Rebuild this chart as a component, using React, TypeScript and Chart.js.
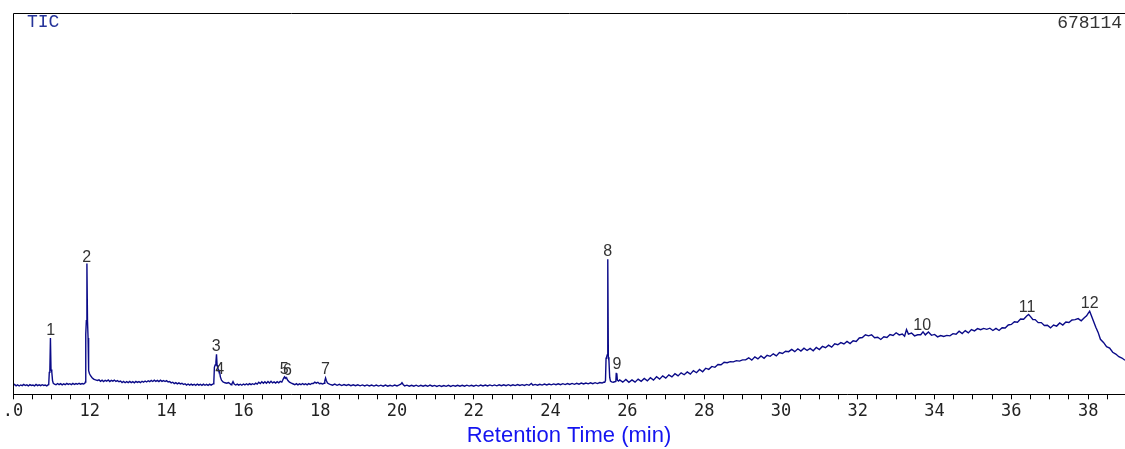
import React, { useEffect, useRef } from "react";
import { Chart, registerables } from "chart.js";

Chart.register(...registerables);

const TRACE_NAME = "TIC";
const FULL_SCALE = 678114;
const FULL_SCALE_LABEL = "678114";
const X_MIN = 10;
const X_MAX = 38.96;
const X_TITLE = "Retention Time (min)";

// [retention time (min), abundance (counts)]
const segmentStart: [number, number][] = [
  [10.0, 16000], [10.04, 17800], [10.08, 15200], [10.12, 16900], [10.16, 14800], [10.2, 16600],
  [10.24, 15400], [10.28, 17500], [10.32, 15600], [10.36, 16800], [10.4, 14900], [10.44, 17200],
  [10.48, 15800], [10.52, 16400], [10.56, 15000], [10.6, 17600], [10.64, 15500], [10.68, 16900],
  [10.72, 15300], [10.76, 17100], [10.8, 15700], [10.84, 16500], [10.88, 15100], [10.91, 16800],
];
const peak1: [number, number][] = [
  [10.93, 17000], [10.945, 39000], [10.96, 43000], [10.975, 100200], [10.99, 44000], [11.01, 40000],
  [11.03, 24000], [11.05, 19500], [11.08, 18200],
];
const segmentB: [number, number][] = [
  [11.12, 17000], [11.16, 19200], [11.2, 17300], [11.24, 18900], [11.28, 16800], [11.32, 18500],
  [11.36, 17100], [11.4, 19400], [11.44, 17600], [11.48, 18800], [11.52, 17200], [11.56, 19300],
  [11.6, 17500], [11.64, 19000], [11.68, 17900], [11.72, 19600], [11.76, 18000], [11.8, 19100],
  [11.84, 18300], [11.87, 19500],
];
const peak2: [number, number][] = [
  [11.885, 22000], [11.895, 107000], [11.91, 131000], [11.925, 232600], [11.94, 131000],
  [11.955, 100000], [11.97, 42000], [11.99, 37000], [12.02, 33000], [12.06, 29500], [12.1, 27000],
  [12.15, 25500], [12.2, 24500],
];
const segmentC: [number, number][] = [
  [12.24, 25600], [12.28, 23100], [12.32, 25200], [12.36, 22800], [12.4, 24900], [12.44, 23300],
  [12.48, 25400], [12.52, 22700], [12.56, 24800], [12.6, 23500], [12.64, 25300], [12.68, 22900],
  [12.72, 24300], [12.76, 22400], [12.8, 23500], [12.84, 21000], [12.88, 22800], [12.92, 20600],
  [12.96, 22500], [13.0, 20900], [13.04, 23000], [13.08, 20800], [13.12, 22400], [13.16, 20500],
  [13.2, 22900], [13.24, 21100], [13.28, 22600], [13.32, 20700], [13.36, 23200], [13.4, 21500],
  [13.44, 23600], [13.48, 21900], [13.52, 24100], [13.56, 22400], [13.6, 24600], [13.64, 22800],
  [13.68, 25000], [13.72, 23100], [13.76, 24700], [13.8, 22600], [13.84, 25100], [13.88, 23000],
  [13.92, 24500], [13.96, 22700], [14.0, 24200], [14.04, 21900], [14.08, 22800], [14.12, 20300],
  [14.16, 21500], [14.2, 19100], [14.24, 20800], [14.28, 18700], [14.32, 20400], [14.36, 18500],
  [14.4, 19600], [14.44, 17400], [14.48, 18800], [14.52, 16500], [14.56, 18300], [14.6, 16400],
  [14.64, 18100], [14.68, 16200], [14.72, 17900], [14.76, 16000], [14.8, 18200], [14.84, 16300],
  [14.88, 17800], [14.92, 15900], [14.96, 18000], [15.0, 16100], [15.04, 17700], [15.08, 15800],
  [15.12, 18100], [15.16, 16400], [15.19, 17500],
];
const peak3and4: [number, number][] = [
  [15.21, 18500], [15.23, 21500], [15.245, 48000], [15.265, 52000], [15.285, 58000], [15.3, 71200],
  [15.315, 52000], [15.335, 46000], [15.36, 43000], [15.38, 40000], [15.4, 31000], [15.43, 25000],
  [15.47, 22000], [15.52, 20500], [15.57, 19800], [15.61, 20800], [15.64, 19500],
];
const segmentD: [number, number][] = [
  [15.68, 17000], [15.7, 18600], [15.73, 22500], [15.76, 18400], [15.8, 16500], [15.84, 18200],
  [15.88, 16300], [15.92, 17900], [15.96, 16100], [16.0, 18300], [16.04, 16600], [16.08, 18700],
  [16.12, 16900], [16.16, 19000], [16.2, 17200], [16.24, 18800], [16.28, 17400], [16.32, 19700],
  [16.36, 18100], [16.4, 21300], [16.44, 19000], [16.48, 22200], [16.52, 19600], [16.56, 22500],
  [16.6, 19800], [16.64, 22800], [16.68, 20100], [16.72, 23000], [16.76, 20300], [16.8, 22100],
  [16.84, 19900], [16.88, 22400], [16.92, 20500], [16.96, 22900], [17.0, 21800], [17.02, 24500],
];
const peak5and6: [number, number][] = [
  [17.05, 29000], [17.07, 31000], [17.09, 28500], [17.11, 30000], [17.13, 28000], [17.16, 24500],
  [17.2, 21500], [17.25, 19800], [17.3, 18300],
];
const segmentE: [number, number][] = [
  [17.34, 17000], [17.38, 18900], [17.42, 16800], [17.46, 18600], [17.5, 17100], [17.54, 19200],
  [17.58, 17300], [17.62, 18800], [17.66, 16900], [17.7, 19000], [17.74, 17500], [17.78, 19300],
  [17.82, 19100], [17.86, 21600], [17.9, 19800], [17.94, 21400], [17.98, 18700], [18.02, 19500],
  [18.06, 18200], [18.1, 19600],
];
const peak7: [number, number][] = [
  [18.12, 24000], [18.14, 29000], [18.16, 24500], [18.19, 20000], [18.23, 18500],
];
const segmentF: [number, number][] = [
  [18.26, 17600], [18.32, 16200], [18.38, 18100], [18.44, 16000], [18.5, 17700], [18.56, 15600],
  [18.62, 17400], [18.68, 15700], [18.74, 17300], [18.8, 15400], [18.86, 17000], [18.92, 15300],
  [18.98, 16900], [19.04, 15100], [19.1, 16700], [19.16, 14900], [19.22, 16600], [19.28, 14800],
  [19.34, 16400], [19.4, 14700], [19.46, 16500], [19.52, 14600], [19.58, 16200], [19.64, 14500],
  [19.7, 16300], [19.76, 14400], [19.82, 16100], [19.88, 14600], [19.94, 16400], [20.0, 14900],
  [20.06, 16600], [20.1, 17900], [20.13, 20600], [20.16, 17500], [20.2, 14800], [20.26, 16300],
  [20.32, 14500], [20.38, 16100], [20.44, 14300], [20.5, 16200], [20.56, 14200], [20.62, 15900],
  [20.68, 14400], [20.74, 16000], [20.8, 14300], [20.86, 16500], [20.92, 14400], [20.98, 15800],
  [21.04, 14100], [21.1, 15700], [21.16, 14000], [21.22, 15600], [21.28, 14200], [21.34, 15900],
  [21.4, 14100], [21.46, 15800], [21.52, 14300], [21.58, 16100], [21.64, 14400], [21.7, 15900],
  [21.76, 14300], [21.82, 16200], [21.88, 14600], [21.94, 16000], [22.0, 14500], [22.06, 16300],
  [22.12, 14700], [22.18, 16500], [22.24, 14900], [22.3, 16400], [22.36, 14800], [22.42, 16700],
  [22.48, 15000], [22.54, 16600], [22.6, 15100], [22.66, 16900], [22.72, 15300], [22.78, 16800],
  [22.84, 15200], [22.9, 17100], [22.96, 15400], [23.02, 17000], [23.08, 15500], [23.14, 17300],
  [23.2, 15700], [23.26, 17200], [23.32, 15800], [23.38, 17500], [23.44, 16000], [23.5, 19400],
  [23.54, 16200], [23.6, 17600], [23.66, 16100], [23.72, 17900], [23.78, 16400], [23.84, 18100],
  [23.9, 16600], [23.96, 18300], [24.02, 16800], [24.08, 18500], [24.14, 17000], [24.2, 18700],
  [24.26, 17200], [24.32, 18900], [24.38, 17300], [24.44, 19200], [24.5, 17600], [24.56, 19400],
  [24.62, 17800], [24.68, 19600], [24.74, 18000], [24.8, 19900], [24.86, 18300], [24.92, 20100],
  [24.98, 18600], [25.04, 20400], [25.1, 18900], [25.16, 20600], [25.22, 19100], [25.28, 21000],
  [25.34, 20000], [25.38, 21400],
];
const peak8and9: [number, number][] = [
  [25.41, 21500], [25.43, 24500], [25.445, 64000], [25.46, 66000], [25.475, 70000], [25.49, 240300],
  [25.505, 66000], [25.52, 60000], [25.54, 30000], [25.56, 23500], [25.59, 22000], [25.63, 21500],
  [25.67, 22300], [25.7, 22800], [25.71, 37000], [25.725, 37500], [25.74, 25000], [25.77, 23500],
];
const segmentRise: [number, number][] = [
  [25.8, 25500], [25.88, 21600], [25.96, 26400], [26.04, 21300], [26.12, 25700], [26.2, 21600],
  [26.28, 27100], [26.36, 23100], [26.44, 28200], [26.52, 23800], [26.6, 29600], [26.68, 25200],
  [26.76, 31200], [26.84, 27000], [26.92, 32800], [27.0, 28800], [27.08, 34600], [27.16, 30900],
  [27.24, 36700], [27.32, 32700], [27.4, 38200], [27.48, 34800], [27.56, 39900], [27.64, 35900],
  [27.72, 42100], [27.8, 38400], [27.88, 44200], [27.96, 40200], [28.04, 46400], [28.12, 44400],
  [28.2, 49600], [28.28, 48000], [28.36, 53100], [28.44, 52600], [28.52, 57000], [28.6, 56200],
  [28.68, 58100], [28.76, 57600], [28.84, 59900], [28.92, 59000], [29.0, 61300], [29.08, 61200],
  [29.16, 64900], [29.24, 60800], [29.32, 66600], [29.4, 62900], [29.48, 68100], [29.56, 64000],
  [29.64, 69500], [29.72, 67600], [29.8, 72000], [29.88, 68300], [29.96, 74100], [30.04, 72500],
  [30.12, 76600], [30.2, 75800], [30.28, 79800], [30.36, 75800], [30.44, 80900], [30.52, 76800],
  [30.6, 82000], [30.68, 77900], [30.76, 81600], [30.84, 77500], [30.92, 83400], [31.0, 79700],
  [31.08, 85200], [31.16, 82900], [31.24, 87300], [31.32, 83900], [31.4, 89800], [31.48, 88200],
  [31.56, 91900], [31.64, 89600], [31.72, 94100], [31.8, 90300], [31.88, 95100], [31.96, 93900],
  [32.04, 100100], [32.12, 101000], [32.2, 105800], [32.28, 103900], [32.36, 105800], [32.44, 100700],
  [32.52, 101500], [32.6, 97500], [32.68, 102200], [32.76, 101000], [32.84, 106200], [32.92, 104600],
  [33.0, 109400], [33.08, 105700], [33.16, 107200], [33.22, 103200], [33.27, 115000], [33.32, 107100],
  [33.4, 109000], [33.48, 103900], [33.56, 105800], [33.64, 106000], [33.7, 111100], [33.76, 105700],
  [33.84, 110800], [33.92, 104900], [34.0, 106500], [34.08, 102100], [34.16, 104400], [34.24, 102800],
  [34.32, 104700], [34.4, 103900], [34.48, 107900], [34.56, 106700], [34.64, 112200], [34.72, 108100],
  [34.8, 113300], [34.88, 109200], [34.96, 115100], [35.04, 112800], [35.12, 116800], [35.2, 114900],
  [35.28, 117200], [35.36, 115600], [35.44, 117600], [35.52, 113500], [35.6, 117200], [35.68, 113500],
  [35.76, 118300], [35.84, 117800], [35.92, 123300], [36.0, 124200], [36.08, 128900], [36.16, 128100],
  [36.24, 133900], [36.32, 133400], [36.4, 139300], [36.45, 141900], [36.5, 138200], [36.56, 133100],
  [36.62, 132900], [36.7, 127400], [36.78, 127500], [36.86, 122400], [36.94, 122900], [37.02, 118100],
  [37.1, 123300], [37.18, 121300], [37.26, 126800], [37.34, 123100], [37.42, 128600], [37.5, 127700],
  [37.58, 132200], [37.66, 132700], [37.74, 134600], [37.82, 130600], [37.9, 136100], [37.96, 139600],
  [38.0, 143800], [38.04, 147700], [38.08, 140600], [38.14, 129900], [38.2, 119300], [38.26, 110100],
  [38.32, 97900], [38.4, 92300], [38.48, 84700], [38.56, 82300], [38.64, 74800], [38.72, 71600],
  [38.8, 66900], [38.88, 64500], [38.96, 60500],
];

const peakLabels = ["1", "2", "3", "4", "5", "6", "7", "8", "9", "10", "11", "12"];
const peakTimes = [10.98, 11.92, 15.29, 15.38, 17.06, 17.15, 18.14, 25.49, 25.73, 33.68, 36.41, 38.04];
const peakHeights = [99700, 230000, 71200, 31500, 31500, 28500, 31500, 240300, 40400, 108600, 141200, 149000];

const tracePoints = [
  ...segmentStart, ...peak1, ...segmentB, ...peak2, ...segmentC, ...peak3and4, ...segmentD,
  ...peak5and6, ...segmentE, ...peak7, ...segmentF, ...peak8and9, ...segmentRise,
];

const overlayPlugin = {
  id: "overlay",
  afterDraw(chart: any) {
    const { ctx, chartArea, scales } = chart;
    const { left, top, right, bottom } = chartArea;
    ctx.save();
    ctx.strokeStyle = "#000";
    ctx.lineWidth = 1;
    ctx.beginPath();
    ctx.moveTo(Math.round(left) + 0.5, bottom);
    ctx.lineTo(Math.round(left) + 0.5, Math.round(top) + 0.5);
    ctx.lineTo(right, Math.round(top) + 0.5);
    ctx.stroke();

    ctx.font = '18px "Liberation Mono"';
    ctx.textBaseline = "alphabetic";
    ctx.textAlign = "left";
    ctx.fillStyle = "#26349a";
    ctx.fillText(TRACE_NAME, left + 14, top + 14);
    ctx.fillStyle = "#333";
    ctx.textAlign = "right";
    ctx.fillText(FULL_SCALE_LABEL, right - 3, top + 15);

    ctx.font = '16px "Liberation Sans"';
    ctx.textAlign = "center";
    ctx.fillStyle = "#333";
    peakLabels.forEach((lbl, i) => {
      const px = scales.x.getPixelForValue(peakTimes[i]);
      const py = scales.y.getPixelForValue(peakHeights[i]);
      ctx.fillText(lbl, px, py - 3);
    });
    ctx.restore();
  },
};

export default function App() {
  const canvasRef = useRef<HTMLCanvasElement | null>(null);

  useEffect(() => {
    if (!canvasRef.current) return;
    const chart = new Chart(canvasRef.current, {
      type: "line",
      data: {
        datasets: [
          {
            label: TRACE_NAME,
            data: tracePoints.map(([x, y]) => ({ x, y })),
            borderColor: "#0a0a88",
            borderWidth: 1.4,
            pointRadius: 0,
            tension: 0,
            fill: false,
          },
        ],
      },
      options: {
        animation: false,
        responsive: false,
        devicePixelRatio: 1,
        layout: { padding: { left: 13, top: 13, right: 0, bottom: 0 } },
        plugins: { legend: { display: false }, tooltip: { enabled: false } },
        scales: {
          x: {
            type: "linear",
            min: X_MIN,
            max: X_MAX,
            border: { display: true, color: "#000", width: 1 },
            grid: { drawOnChartArea: false, drawTicks: true, tickLength: 5, color: "#000" },
            ticks: {
              stepSize: 0.5,
              includeBounds: false,
              autoSkip: false,
              maxRotation: 0,
              padding: 2,
              color: "#222",
              font: { family: "DejaVu Sans Mono", size: 17 },
              callback: (v: any) => {
                const n = Number(v);
                if (Math.abs(n % 2) > 1e-6) return "";
                return n === 10 ? ".0" : String(n);
              },
            },
            title: {
              display: true,
              text: X_TITLE,
              color: "#1414f0",
              font: { family: "Liberation Sans", size: 22, lineHeight: 1.15 },
              padding: { top: 0, bottom: 0 },
            },
          },
          y: {
            display: false,
            min: 0,
            max: FULL_SCALE,
          },
        },
      },
      plugins: [overlayPlugin],
    });
    return () => chart.destroy();
  }, []);

  return (
    <div style={{ position: "absolute", left: 0, top: 0, width: 1125, height: 449, background: "#fff" }}>
      <canvas ref={canvasRef} width={1125} height={449} />
    </div>
  );
}
